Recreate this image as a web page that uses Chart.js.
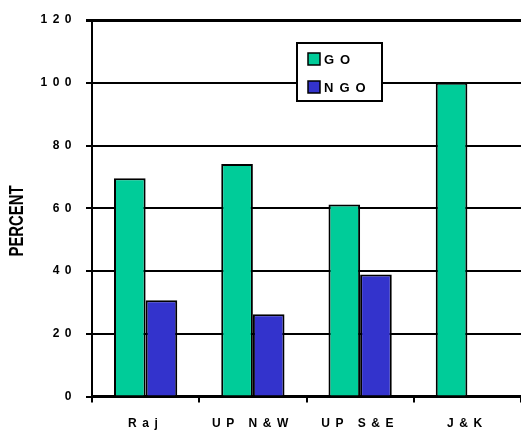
<!DOCTYPE html>
<html>
<head>
<meta charset="utf-8">
<script src="https://cdn.jsdelivr.net/npm/chart.js@4/dist/chart.umd.min.js"></script>
<style>
  html, body { margin: 0; padding: 0; background: #fff; }
</style>
</head>
<body>
<canvas id="chart" width="521" height="430"></canvas>
<script>
// Share of GO / NGO by region (percent)
const regions = ['Raj', 'UP N&W', 'UP S&E', 'J&K'];
const goValues = [69.6, 74.1, 61.2, 100];
const ngoValues = [30.7, 26.2, 38.9, 0];
const seriesNames = ['GO', 'NGO'];
const seriesColors = ['#00cc99', '#3333cc'];
const yMax = 120;
const yStep = 20;
const yTitle = 'PERCENT';

const FONT = '"Liberation Sans", Arial, sans-serif';

// canvas letter spacing for the wide-set tick labels
const spacing = {
  id: 'spacing',
  beforeDraw(chart) {
    chart.ctx.letterSpacing = '5.5px';
  }
};

// rotated, condensed axis title plus the boxed legend
const extras = {
  id: 'extras',
  afterDraw(chart) {
    const ctx = chart.ctx;
    ctx.save();
    ctx.letterSpacing = '0px';
    ctx.fillStyle = '#000';
    ctx.font = 'bold 21px ' + FONT;
    const w = ctx.measureText(yTitle).width;
    ctx.translate(17, 221);
    ctx.rotate(-Math.PI / 2);
    ctx.scale(71 / w, 1);
    ctx.textAlign = 'center';
    ctx.textBaseline = 'middle';
    ctx.fillText(yTitle, 0, 0);
    ctx.restore();

    // legend box
    ctx.save();
    const bx = 297, by = 43, bw = 85, bh = 58;
    ctx.fillStyle = '#fff';
    ctx.fillRect(bx, by, bw, bh);
    ctx.strokeStyle = '#000';
    ctx.lineWidth = 2;
    ctx.strokeRect(bx, by, bw, bh);
    ctx.font = 'bold 13px ' + FONT;
    ctx.letterSpacing = '6px';
    ctx.textBaseline = 'middle';
    seriesNames.forEach((name, i) => {
      const y = 59 + i * 28;
      ctx.fillStyle = seriesColors[i];
      ctx.fillRect(308, y - 6, 12, 12);
      ctx.lineWidth = 1.5;
      ctx.strokeStyle = '#000';
      ctx.strokeRect(308, y - 6, 12, 12);
      ctx.fillStyle = '#000';
      ctx.fillText(name, 324, y + 1);
    });
    ctx.restore();
  }
};

new Chart(document.getElementById('chart'), {
  type: 'bar',
  data: {
    labels: regions,
    datasets: [
      {
        label: seriesNames[0],
        data: goValues,
        backgroundColor: seriesColors[0],
        borderColor: '#000',
        borderWidth: 2,
        borderSkipped: 'start'
      },
      {
        label: seriesNames[1],
        data: ngoValues,
        backgroundColor: seriesColors[1],
        borderColor: '#000',
        borderWidth: 2,
        borderSkipped: 'start'
      }
    ]
  },
  options: {
    responsive: false,
    animation: false,
    layout: { padding: { top: 20, right: 0, bottom: 0, left: 0 } },
    datasets: { bar: { categoryPercentage: 0.59, barPercentage: 1 } },
    plugins: {
      legend: { display: false },
      tooltip: { enabled: false }
    },
    scales: {
      x: {
        offset: true,
        grid: {
          offset: true,
          drawOnChartArea: false,
          drawTicks: true,
          tickLength: 6,
          color: '#000',
          lineWidth: 2
        },
        border: { display: true, color: '#000', width: 2.5 },
        ticks: { color: '#000', font: { family: FONT, size: 12, weight: 'bold' }, padding: 14 },
        afterFit(scale) { scale.height = 33.5; }
      },
      y: {
        min: 0,
        max: yMax,
        ticks: {
          stepSize: yStep,
          color: '#000',
          font: { family: FONT, size: 12, weight: 'bold' },
          padding: 9
        },
        grid: {
          color: '#000',
          lineWidth: ctx => (ctx.tick && ctx.tick.value === yMax ? 3 : 2),
          tickLength: 6
        },
        border: { display: true, color: '#000', width: 2 },
        afterFit(scale) { scale.width = 92; }
      }
    }
  },
  plugins: [spacing, extras]
});
</script>
</body>
</html>
